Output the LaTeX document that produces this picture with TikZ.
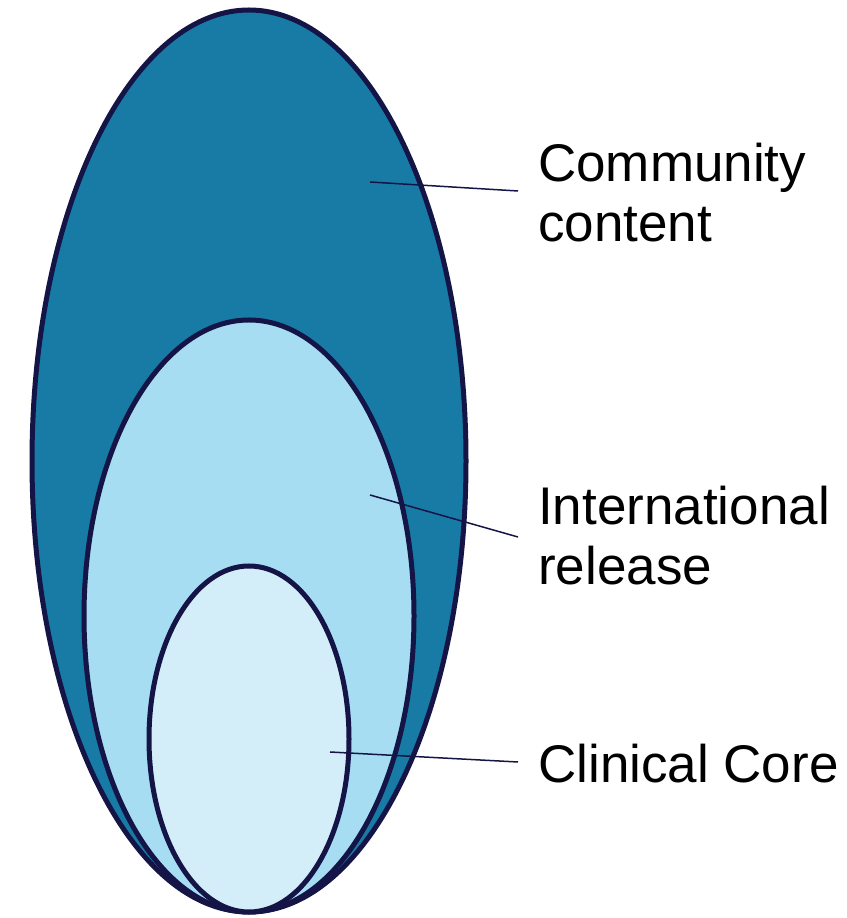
\documentclass[tikz,border=0pt]{standalone}
\usepackage{fontspec}
\setmainfont{Liberation Sans}
\definecolor{outerfill}{HTML}{187BA5}
\definecolor{midfill}{HTML}{A6DDF2}
\definecolor{innerfill}{HTML}{D3EEF8}
\definecolor{navy}{HTML}{141446}
\tikzset{
  ring/.style={draw=navy, line width=5pt},
  leader/.style={draw=navy, line width=1.5pt},
  lbl/.style={font=\fontsize{53}{60}\selectfont, align=left, anchor=base west, inner sep=0pt, text=black}
}
\begin{document}
\begin{tikzpicture}[x=1pt,y=1pt]
\useasboundingbox (0,0) rectangle (846,918);
\draw[ring, fill=outerfill] (249,457) ellipse [x radius=217, y radius=451];
\draw[ring, fill=midfill] (249,302) ellipse [x radius=165, y radius=296];
\draw[ring, fill=innerfill] (249,179) ellipse [x radius=100, y radius=173];
\coordinate (c1) at (370,736);
\coordinate (e1) at (518,727);
\coordinate (c2) at (370,423);
\coordinate (e2) at (518,381);
\coordinate (c3) at (330,166);
\coordinate (e3) at (518,156);
\draw[leader] (c1) -- (e1);
\draw[leader] (c2) -- (e2);
\draw[leader] (c3) -- (e3);
\node[lbl] (t1a) at (538,736) {Community};
\node[lbl] (t1b) at (538,676) {content};
\node[lbl] (t2a) at (538,393) {International};
\node[lbl] (t2b) at (538,333) {release};
\node[lbl] (t3) at (538,135) {Clinical Core};
\end{tikzpicture}
\end{document}
